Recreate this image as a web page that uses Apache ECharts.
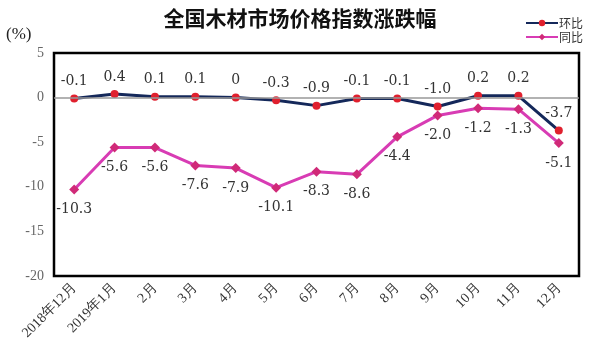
<!DOCTYPE html>
<html>
<head>
<meta charset="utf-8">
<script src="https://cdn.jsdelivr.net/npm/echarts@6/dist/echarts.min.js"></script>
<style>html,body{margin:0;padding:0;background:#fff;}#c{width:600px;height:360px;}</style>
</head>
<body>
<div id="c"></div>
<script>
const categories = ['2018年12月','2019年1月','2月','3月','4月','5月','6月','7月','8月','9月','10月','11月','12月'];
const huanbi = [-0.1, 0.4, 0.1, 0.1, 0, -0.3, -0.9, -0.1, -0.1, -1.0, 0.2, 0.2, -3.7];
const tongbi = [-10.3, -5.6, -5.6, -7.6, -7.9, -10.1, -8.3, -8.6, -4.4, -2.0, -1.2, -1.3, -5.1];
const yTicks = [5, 0, -5, -10, -15, -20];

const chart = echarts.init(document.getElementById('c'));
const fmt = p => p.value === 0 ? '0' : p.value.toFixed(1);
chart.setOption({
  backgroundColor: '#fff',
  animation: false,
  title: {
    text: '全国木材市场价格指数涨跌幅',
    left: 'center', top: 3,
    textStyle: { fontFamily: 'Noto Sans CJK SC', fontSize: 21, fontWeight: 'bold', color: '#111' }
  },
  graphic: [{
    type: 'text', left: 6, top: 26,
    style: { text: '(%)', font: '17px "Liberation Serif"', fill: '#222' }
  }],
  legend: {
    orient: 'vertical', right: 12, top: 12, itemGap: 2,
    itemWidth: 32, itemHeight: 8,
    textStyle: { fontFamily: 'Noto Sans CJK SC', fontSize: 12, color: '#333', padding: [0,0,0,-4] },
    data: ['环比', '同比']
  },
  grid: { left: 54, right: 21, top: 53, bottom: 84, show: true, borderColor: '#000', borderWidth: 2.5, backgroundColor: 'transparent' },
  xAxis: {
    type: 'category', data: categories, boundaryGap: true,
    axisLine: { show: false }, axisTick: { show: false },
    axisLabel: { rotate: 45, interval: 0, margin: 10, fontFamily: 'Liberation Serif', fontSize: 14, color: '#333' }
  },
  yAxis: {
    type: 'value', min: -20, max: 5, interval: 5,
    axisLine: { show: false }, axisTick: { show: false }, splitLine: { show: false },
    axisLabel: { margin: 10, fontFamily: 'Liberation Serif', fontSize: 14, color: '#666',
      formatter: v => yTicks.includes(v) ? String(v) : '' }
  },
  series: [
    {
      name: '环比', type: 'line', data: huanbi,
      symbol: 'circle', symbolSize: 8,
      lineStyle: { color: '#14285a', width: 3 },
      itemStyle: { color: '#e0202e' },
      label: { show: true, position: 'top', distance: 6, formatter: fmt, fontFamily: 'DejaVu Serif', fontSize: 14, color: '#333' },
      markLine: { silent: true, symbol: 'none', label: { show: false },
        lineStyle: { color: '#999', width: 1.5, type: 'solid' }, data: [{ yAxis: 0 }] },
      z: 3
    },
    {
      name: '同比', type: 'line', data: tongbi,
      symbol: 'diamond', symbolSize: 10,
      lineStyle: { color: '#d83cb4', width: 3 },
      itemStyle: { color: '#d02a78' },
      label: { show: true, position: 'bottom', distance: 8, formatter: fmt, fontFamily: 'DejaVu Serif', fontSize: 14, color: '#333' },
      z: 2
    }
  ]
});
</script>
</body>
</html>
